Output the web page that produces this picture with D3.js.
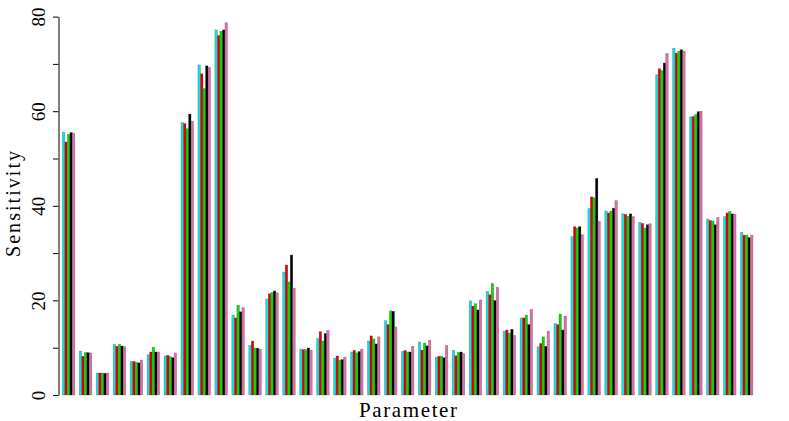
<!DOCTYPE html>
<meta charset="utf-8">
<script src="https://d3js.org/d3.v7.min.js"></script>
<style>
  body { margin: 0; background: #fff; }
  text { font-family: "Liberation Serif", serif; }
</style>
<div id="my_dataviz"></div>
<script>

// one value per parameter, five runs
var parameters = d3.range(1, 42);
var seriesNames = ["s1", "s2", "s3", "s4", "s5"];
var seriesColors = ["#12E0E0", "#E00000", "#00DD00", "#000000", "#E06CAA"];
var yTicks = [0, 10, 20, 30, 40, 50, 60, 70, 80];

var s1 = [55.6, 9.3, 4.65, 10.7, 7.1, 8.5, 8.25, 57.6, 69.8, 77.2, 16.9, 10.5, 20.3, 26.0, 9.7, 11.9, 7.8, 9.1, 11.4, 15.7, 9.2, 11.2, 8.0, 9.45, 19.9, 21.9, 13.5, 16.3, 10.2, 15.1, 33.5, 39.4, 38.9, 38.3, 36.5, 67.7, 73.3, 58.8, 37.2, 37.7, 34.4];
var s2 = [53.5, 8.2, 4.65, 10.3, 7.1, 9.1, 8.4, 57.4, 67.9, 76.0, 16.3, 11.4, 21.4, 27.5, 9.6, 13.4, 8.25, 9.45, 12.5, 14.9, 9.45, 9.5, 8.2, 8.3, 18.8, 21.2, 13.75, 16.3, 10.9, 14.9, 35.6, 41.9, 38.5, 38.2, 36.3, 69.0, 72.3, 58.9, 36.9, 38.5, 33.8];
var s3 = [55.1, 9.0, 4.65, 10.7, 6.9, 10.1, 8.1, 56.3, 64.8, 76.9, 19.0, 9.9, 21.7, 23.9, 9.6, 11.4, 7.4, 8.9, 11.85, 17.8, 9.1, 11.0, 8.2, 9.0, 19.3, 23.6, 13.1, 16.9, 12.3, 17.1, 35.3, 41.7, 38.9, 37.8, 35.3, 68.6, 72.7, 59.3, 36.8, 38.8, 33.8];
var s4 = [55.5, 8.95, 4.6, 10.35, 6.8, 9.1, 7.9, 59.4, 69.6, 77.2, 17.6, 9.9, 22.0, 29.6, 9.95, 13.0, 7.5, 9.2, 10.8, 17.7, 9.1, 10.4, 7.9, 9.1, 18.0, 20.0, 13.9, 14.9, 10.3, 13.75, 35.6, 45.8, 39.5, 38.3, 36.0, 70.2, 73.0, 59.9, 36.0, 38.3, 33.3];
var s5 = [55.3, 8.9, 4.65, 10.2, 7.4, 9.1, 8.9, 57.9, 69.3, 78.7, 18.5, 9.7, 21.6, 22.6, 9.5, 13.6, 8.0, 9.7, 12.3, 14.4, 10.3, 11.6, 10.5, 8.75, 20.1, 22.8, 12.6, 18.1, 13.5, 16.7, 33.9, 36.7, 41.1, 37.7, 36.2, 72.2, 72.7, 60.0, 37.5, 38.2, 33.8];

var series = [s1, s2, s3, s4, s5];

var W = 789, H = 421;

var svg = d3.select("#my_dataviz")
  .append("svg")
    .attr("width", W)
    .attr("height", H);

// scales
var x0 = d3.scaleBand()
  .domain(parameters)
  .range([62.3, 753])
  .paddingInner(0.257)
  .paddingOuter(0);

var x1 = d3.scaleBand()
  .domain(seriesNames)
  .range([0, x0.bandwidth()]);

var y = d3.scaleLinear()
  .domain([0, 80])
  .range([395, 16.6]);

// flatten to one record per bar
var bars = [];
parameters.forEach(function(p, i) {
  seriesNames.forEach(function(s, j) {
    bars.push({param: p, series: s, color: seriesColors[j], value: series[j][i]});
  });
});

svg.append("g")
  .selectAll("rect")
  .data(bars)
  .enter()
  .append("rect")
    .attr("x", function(d) { return x0(d.param) + x1(d.series); })
    .attr("y", function(d) { return y(d.value); })
    .attr("width", x1.bandwidth())
    .attr("height", function(d) { return y(0) - y(d.value); })
    .attr("fill", function(d) { return d.color; })
    .attr("stroke", "rgba(60,60,60,0.45)")
    .attr("stroke-width", 0.5);

// y axis, R style: ticks every 10, labels every 20, rotated
var yAxis = svg.append("g")
  .attr("transform", "translate(58.5,0)")
  .call(d3.axisLeft(y)
    .tickValues(yTicks)
    .tickSize(5.5)
    .tickSizeOuter(0)
    .tickFormat(function(d) { return d % 20 === 0 ? d : ""; }));

yAxis.select(".domain").attr("stroke", "#000").attr("stroke-width", 1);
yAxis.selectAll(".tick line").attr("stroke", "#000").attr("stroke-width", 1);
yAxis.selectAll(".tick text")
  .attr("x", null)
  .attr("dy", null)
  .attr("transform", "translate(-13.5,0) rotate(-90)")
  .style("text-anchor", "middle")
  .style("font-family", "Liberation Serif")
  .style("font-size", "19px")
  .attr("fill", "#000");

// axis titles
svg.append("text")
  .attr("transform", "translate(20,204) rotate(-90)")
  .style("text-anchor", "middle")
  .style("font-size", "20px")
  .attr("textLength", 106)
  .text("Sensitivity");

svg.append("text")
  .attr("x", 408)
  .attr("y", 416.5)
  .style("text-anchor", "middle")
  .style("font-size", "21px")
  .attr("textLength", 98)
  .text("Parameter");

</script>
